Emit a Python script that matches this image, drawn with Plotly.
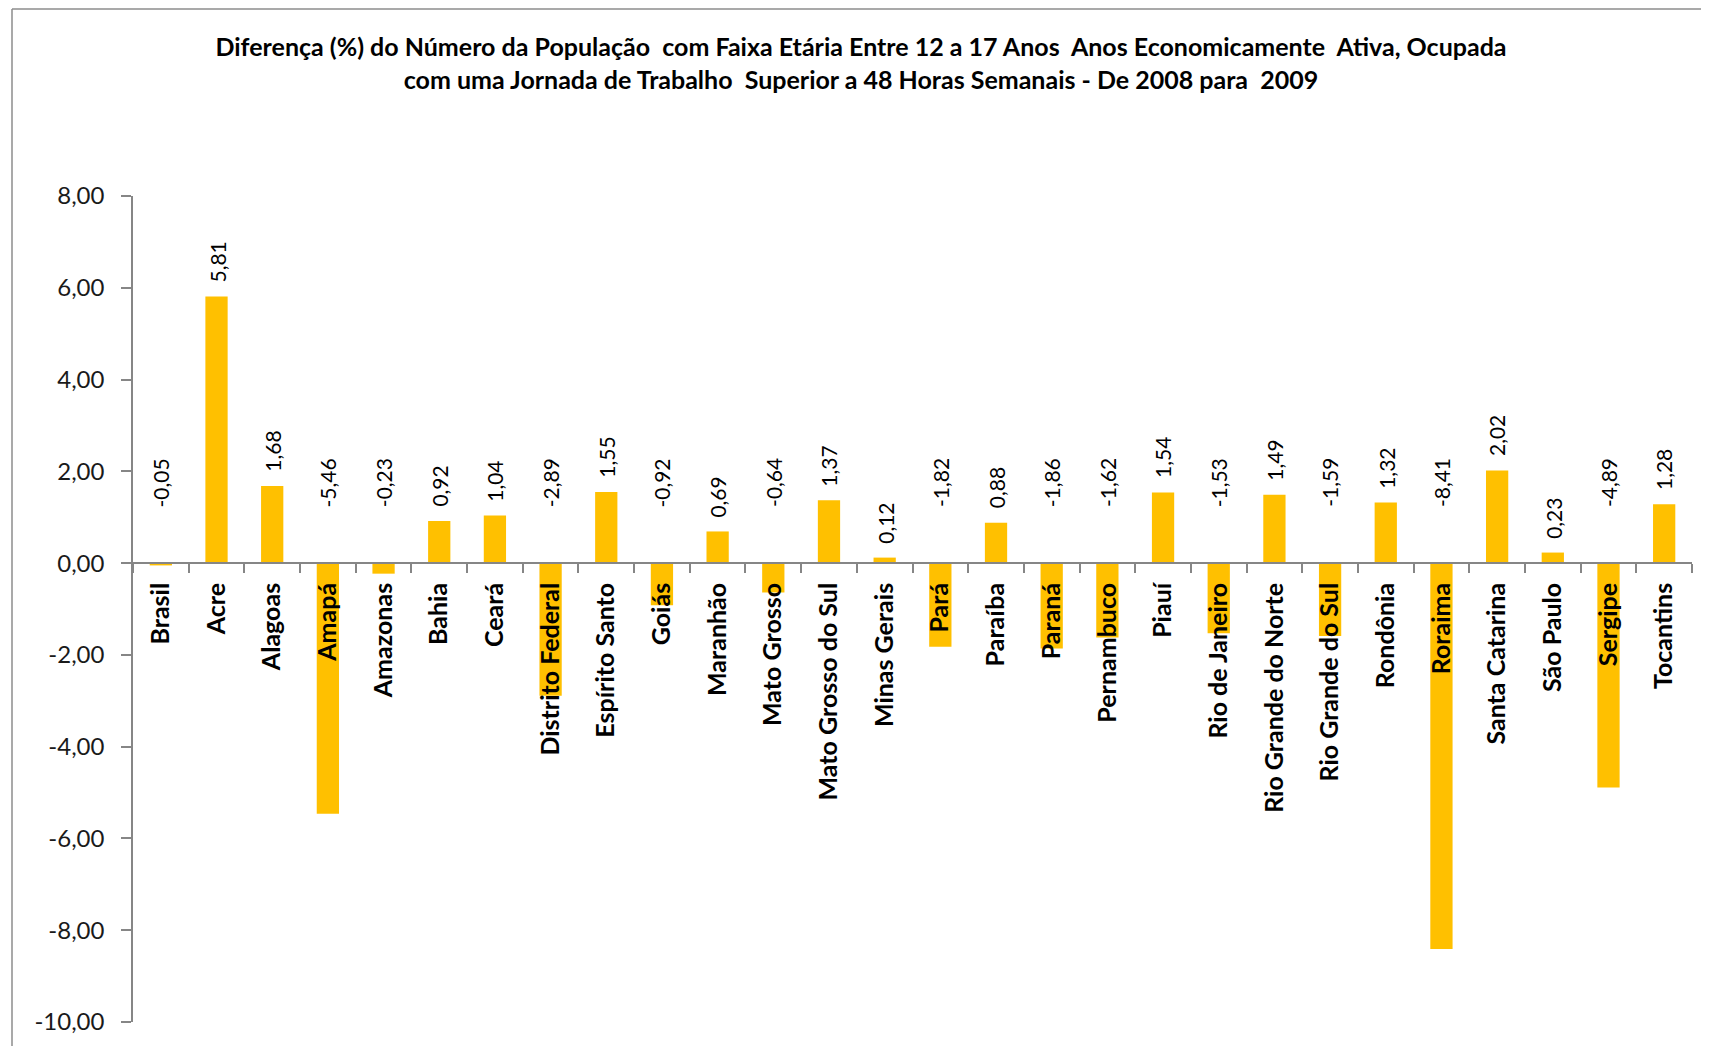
import plotly.graph_objects as go

ESTADOS = ["Brasil", "Acre", "Alagoas", "Amapá", "Amazonas", "Bahia", "Ceará",
           "Distrito Federal", "Espírito Santo", "Goiás", "Maranhão", "Mato Grosso",
           "Mato Grosso do Sul", "Minas Gerais", "Pará", "Paraíba", "Paraná",
           "Pernambuco", "Piauí", "Rio de Janeiro", "Rio Grande do Norte",
           "Rio Grande do Sul", "Rondônia", "Roraima", "Santa Catarina",
           "São Paulo", "Sergipe", "Tocantins"]
DIFERENCA = [-0.05, 5.81, 1.68, -5.46, -0.23, 0.92, 1.04,
             -2.89, 1.55, -0.92, 0.69, -0.64,
             1.37, 0.12, -1.82, 0.88, -1.86,
             -1.62, 1.54, -1.53, 1.49,
             -1.59, 1.32, -8.41, 2.02,
             0.23, -4.89, 1.28]
Y_TICKS = [8, 6, 4, 2, 0, -2, -4, -6, -8, -10]

TITLE = ("Diferença (%) do Número da População  com Faixa Etária Entre 12 a 17 Anos  "
         "Anos Economicamente  Ativa, Ocupada<br>com uma Jornada de Trabalho  Superior "
         "a 48 Horas Semanais - De 2008 para  2009")


def br(v):
    # Excel pt-BR style number: comma decimal, plain hyphen minus
    return f"{v:.2f}".replace(".", ",")


# page is 1709x1046, the plotly div sits inside an 8px body margin
OFF = 8
W, H = 1709 - OFF, 1046 - OFF
ML, MR, MT, MB = 133 - OFF, 17, 196 - OFF, 24
PW, PH = W - ML - MR, H - MT - MB
FONT = "Lato, Carlito, Calibri, sans-serif"
AXIS = "#868686"

fig = go.Figure(go.Bar(x=ESTADOS, y=DIFERENCA, marker=dict(color="#FFC000", line=dict(width=0)),
                       hoverinfo="x+y"))

# data labels: rotated, above the bar top (positive) or above the zero line (negative)
for est, v in zip(ESTADOS, DIFERENCA):
    fig.add_annotation(x=est, y=max(v, 0), text=br(v),
                       textangle=-90, showarrow=False, yanchor="bottom",
                       yshift=12 if v >= 0 else 54,
                       font=dict(family=FONT, size=21, color="#000000"))

# chart-area border (left and top edges visible in the crop)
px = lambda x: (x - OFF - ML) / PW
py = lambda y: (H - MB - (y - OFF)) / PH
fig.add_shape(type="line", xref="paper", yref="paper", x0=px(12), x1=px(1720),
              y0=py(9), y1=py(9), line=dict(color="#8c8c8c", width=1.5))
fig.add_shape(type="line", xref="paper", yref="paper", x0=px(12), x1=px(12),
              y0=py(9), y1=py(1060), line=dict(color="#8c8c8c", width=1.5))

fig.update_layout(
    width=W, height=H,
    margin=dict(l=ML, r=MR, t=MT, b=MB),
    paper_bgcolor="white", plot_bgcolor="white",
    separators=",.",
    showlegend=False,
    bargap=0.6,
    title=dict(text=TITLE, x=(861 - OFF) / W, xanchor="center", xref="container",
               y=1 - (56 - OFF) / H, yanchor="middle",
               font=dict(family=FONT, size=25, color="#000000", weight="bold"),
               subtitle=None),
    xaxis=dict(type="category", anchor="free", position=10 / 18,
               showline=True, linecolor=AXIS, linewidth=1.5,
               ticks="outside", tickson="boundaries", ticklen=9, tickcolor=AXIS, tickwidth=1.5,
               tickangle=-90, ticklabelstandoff=9, showgrid=False, zeroline=False,
               tickfont=dict(family=FONT, size=25, color="#000000", weight="bold")),
    yaxis=dict(range=[-10, 8], tickvals=Y_TICKS, ticktext=[br(t) for t in Y_TICKS],
               showline=True, linecolor=AXIS, linewidth=1.5,
               ticks="outside", ticklen=10, tickcolor=AXIS, tickwidth=1.5,
               ticklabelstandoff=12, showgrid=False, zeroline=False,
               tickfont=dict(family=FONT, size=24, color="#1a1a1a")),
)

fig.write_html("out.html")
